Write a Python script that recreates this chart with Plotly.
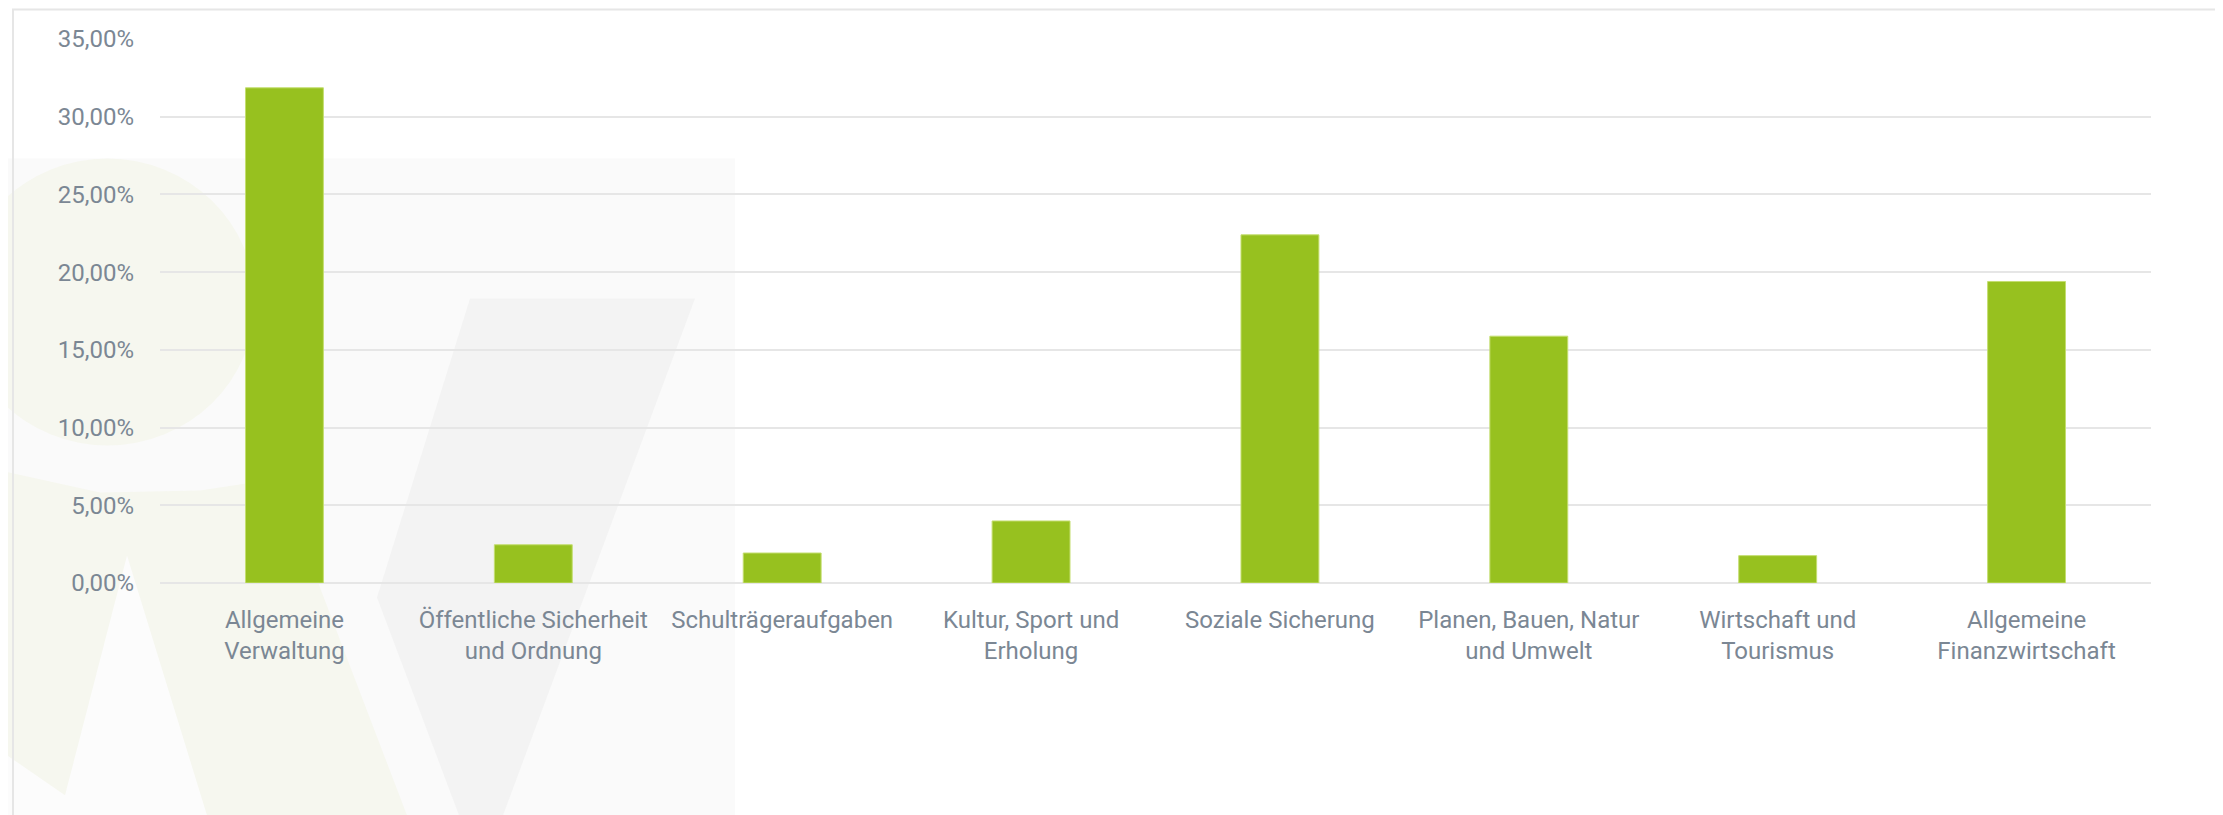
import plotly.graph_objects as go

categories = [
    "Allgemeine<br>Verwaltung",
    "Öffentliche Sicherheit<br>und Ordnung",
    "Schulträgeraufgaben",
    "Kultur, Sport und<br>Erholung",
    "Soziale Sicherung",
    "Planen, Bauen, Natur<br>und Umwelt",
    "Wirtschaft und<br>Tourismus",
    "Allgemeine<br>Finanzwirtschaft",
]
shares = [31.86, 2.46, 1.93, 3.99, 22.40, 15.88, 1.76, 19.40]
y_ticks = [0, 5, 10, 15, 20, 25, 30, 35]
y_tick_labels = ["0,00%", "5,00%", "10,00%", "15,00%", "20,00%", "25,00%", "30,00%", "35,00%"]

# page body has an 8px margin: work in figure coordinates
OFF = 8
W, H = 2223 - OFF, 815 - OFF
L, R, T, B = 160 - OFF, 2151 - OFF, 38.5 - OFF, 582.6 - OFF

def px(x):
    return (x - OFF - L) / (R - L)

def py(y):
    return (B - (y - OFF)) / (B - T)

def path(points):
    return "M " + " L ".join(f"{px(x):.5f},{py(y):.5f}" for x, y in points) + " Z"

fig = go.Figure(
    go.Bar(
        x=categories,
        y=shares,
        marker=dict(color="#97c11f", line=dict(color="#c4de70", width=1)),
        hoverinfo="x+y",
    )
)

shapes = []
# faint decorative background (watermark)
shapes.append(dict(type="rect", xref="paper", yref="paper", x0=px(0), x1=px(735), y0=py(158), y1=py(815),
                   fillcolor="#fafafa", line=dict(width=0), layer="below"))
shapes.append(dict(type="circle", xref="paper", yref="paper", x0=px(-40), x1=px(255), y0=py(158), y1=py(445),
                   fillcolor="#f6f7ef", line=dict(width=0), layer="below"))
shapes.append(dict(type="path", xref="paper", yref="paper",
                   path=path([(0, 470), (100, 492), (200, 490), (280, 478), (320, 587), (407, 815), (0, 815)]),
                   fillcolor="#f6f7ef", line=dict(width=0), layer="below"))
shapes.append(dict(type="path", xref="paper", yref="paper",
                   path=path([(127, 555), (207, 815), (0, 815), (0, 750), (65, 795)]),
                   fillcolor="#fcfcfc", line=dict(width=0), layer="below"))
shapes.append(dict(type="path", xref="paper", yref="paper",
                   path=path([(470, 298), (695, 298), (503, 815), (459, 815), (377, 597)]),
                   fillcolor="#f3f3f3", line=dict(width=0), layer="below"))
# outer frame
shapes.append(dict(type="rect", xref="paper", yref="paper", x0=px(13), x1=px(2220), y0=py(9), y1=py(830),
                   fillcolor="rgba(0,0,0,0)", line=dict(color="#e6e6e6", width=2), layer="below"))

font_family = "Roboto, sans-serif"
text_color = "#7b8794"

fig.update_layout(
    width=W,
    height=H,
    margin=dict(l=L, r=W - R, t=T, b=H - B, pad=0),
    paper_bgcolor="white",
    plot_bgcolor="rgba(0,0,0,0)",
    separators=",.",
    bargap=0.687,
    showlegend=False,
    shapes=shapes,
    font=dict(family=font_family, size=24, color=text_color),
    xaxis=dict(
        showgrid=False,
        showline=False,
        zeroline=False,
        ticks="",
        ticklabelstandoff=20,
        tickfont=dict(family=font_family, size=24, color=text_color),
    ),
    yaxis=dict(
        range=[0, 35],
        tickmode="array",
        tickvals=y_ticks,
        ticktext=y_tick_labels,
        showgrid=True,
        gridcolor="#e6e6e6",
        gridwidth=2,
        zeroline=True,
        zerolinecolor="#e6e6e6",
        zerolinewidth=2,
        showline=False,
        ticks="",
        ticklabelstandoff=25,
        tickfont=dict(family=font_family, size=24, color=text_color),
    ),
)

fig.write_html("out.html")
